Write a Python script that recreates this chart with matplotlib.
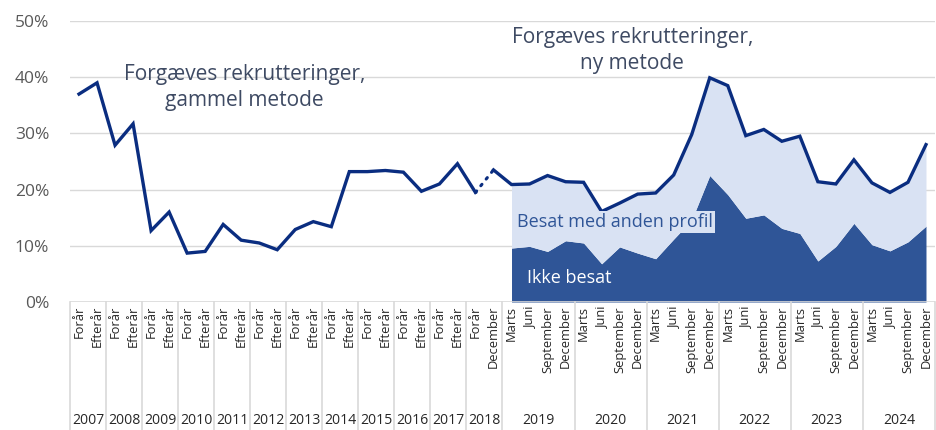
import matplotlib
matplotlib.use("Agg")
import matplotlib.pyplot as plt
import matplotlib.transforms as mtransforms

plt.rcParams['font.family'] = ['Open Sans', 'DejaVu Sans']

# ---- data ----
sub_labels = (['Forår', 'Efterår'] * 11 + ['Forår', 'December']
              + ['Marts', 'Juni', 'September', 'December'] * 6)
years = ['2007', '2008', '2009', '2010', '2011', '2012', '2013', '2014',
         '2015', '2016', '2017', '2018', '2019', '2020', '2021', '2022',
         '2023', '2024']
year_sizes = [2, 2, 2, 2, 2, 2, 2, 2, 2, 2, 2, 2, 4, 4, 4, 4, 4, 4]

# Forgæves rekrutteringer, gammel metode (2007 Forår - 2018 Forår), pct.
old_method = [37.0, 39.0, 27.9, 31.7, 12.7, 16.0, 8.7, 9.0, 13.8, 11.0,
              10.5, 9.3, 12.9, 14.3, 13.4, 23.2, 23.2, 23.4, 23.1, 19.7,
              21.0, 24.6, 19.5]
# Forgæves rekrutteringer, ny metode (2018 December - 2024 December), pct.
new_method = [23.5, 20.9, 21.0, 22.5, 21.4, 21.3, 16.1, 17.6, 19.2, 19.4,
              22.6, 29.8, 39.9, 38.5, 29.6, 30.7, 28.6, 29.5, 21.4, 21.0,
              25.3, 21.2, 19.5, 21.3, 28.0]
# Ikke besat (2019 Marts - 2024 December), pct.
ikke_besat = [9.6, 9.9, 9.0, 10.9, 10.5, 6.8, 9.8, 8.7, 7.7, 11.2,
              14.6, 22.5, 19.1, 14.9, 15.5, 13.1, 12.2, 7.3, 9.9, 14.0,
              10.2, 9.1, 10.7, 13.5]

LINE = '#0A2D80'
DARK = '#2F5597'
LIGHT = '#D9E2F3'
GRID = '#D9D9D9'
TXT = '#3E4A63'

fig = plt.figure(figsize=(9.37, 4.30), dpi=100)
W, H = 937, 430
x0, x1 = 70, 935
y_top, y_bot = 21, 302
ax = fig.add_axes([x0 / W, (H - y_bot) / H, (x1 - x0) / W, (y_bot - y_top) / H])

n = len(sub_labels)
n_old = len(old_method)
x_old = list(range(n_old))
x_new = list(range(n_old, n_old + len(new_method)))
x_area = list(range(n - len(ikke_besat), n))
total_area = new_method[len(new_method) - len(ikke_besat):]

ax.fill_between(x_area, 0, ikke_besat, color=DARK, lw=0, zorder=2)
ax.fill_between(x_area, ikke_besat, total_area, color=LIGHT, lw=0, zorder=2)

ax.plot(x_old, old_method, color=LINE, lw=2.4, solid_joinstyle='miter', zorder=4)
ax.plot(x_new, new_method, color=LINE, lw=2.4, solid_joinstyle='miter', zorder=4)
ax.plot([x_old[-1], x_new[0]], [old_method[-1], new_method[0]], color=LINE,
        lw=2.2, linestyle=(0, (0.6, 2.2)), dash_capstyle='round', zorder=4)

ax.set_xlim(-0.5, n - 0.5)
ax.set_ylim(0, 50)
ax.set_yticks([0, 10, 20, 30, 40, 50])
ax.set_yticklabels(['0%', '10%', '20%', '30%', '40%', '50%'])
ax.tick_params(axis='y', length=0, pad=15, labelsize=12.5, labelcolor='#595959')
for v in [10, 20, 30, 40, 50]:
    ax.axhline(v, color=GRID, lw=1, zorder=1)
ax.axhline(0, color=GRID, lw=1.2, zorder=3)
for s in ax.spines.values():
    s.set_visible(False)
ax.set_xticks([])

# ---- category axis ----
trans = mtransforms.blended_transform_factory(ax.transData, ax.transAxes)
px = 1.0 / (y_bot - y_top)
for i, lab in enumerate(sub_labels):
    ax.text(i, -4 * px, lab, rotation=90, ha='center', va='top', fontsize=9.3,
            color='#262626', transform=trans, clip_on=False)
pos = -0.5
bounds = [pos]
for name, size in zip(years, year_sizes):
    ax.text(pos + size / 2, -(421 - y_bot) * px, name, ha='center', va='center',
            fontsize=10.1, color='#262626', transform=trans, clip_on=False)
    pos += size
    bounds.append(pos)
for b in bounds:
    ax.plot([b, b], [0, -(H - y_bot + 2) * px], color=GRID, lw=1.2,
            transform=trans, clip_on=False, zorder=3)

# ---- annotations ----
ax.text(9.2, 38.1, 'Forgæves rekrutteringer,\ngammel metode', ha='center',
        va='center', fontsize=15, color=TXT, linespacing=1.3, zorder=5)
ax.text(30.7, 44.7, 'Forgæves rekrutteringer,\nny metode', ha='center',
        va='center', fontsize=15, color=TXT, linespacing=1.3, zorder=5)
ax.text(24.3, 14.2, 'Besat med anden profil', ha='left', va='center',
        fontsize=13, color=DARK, zorder=5,
        bbox=dict(boxstyle='square,pad=0.12', facecolor=LIGHT, edgecolor='none'))
ax.text(24.85, 4.3, 'Ikke besat', ha='left', va='center', fontsize=13,
        color='white', zorder=5)

fig.savefig('out.png', dpi=100)
